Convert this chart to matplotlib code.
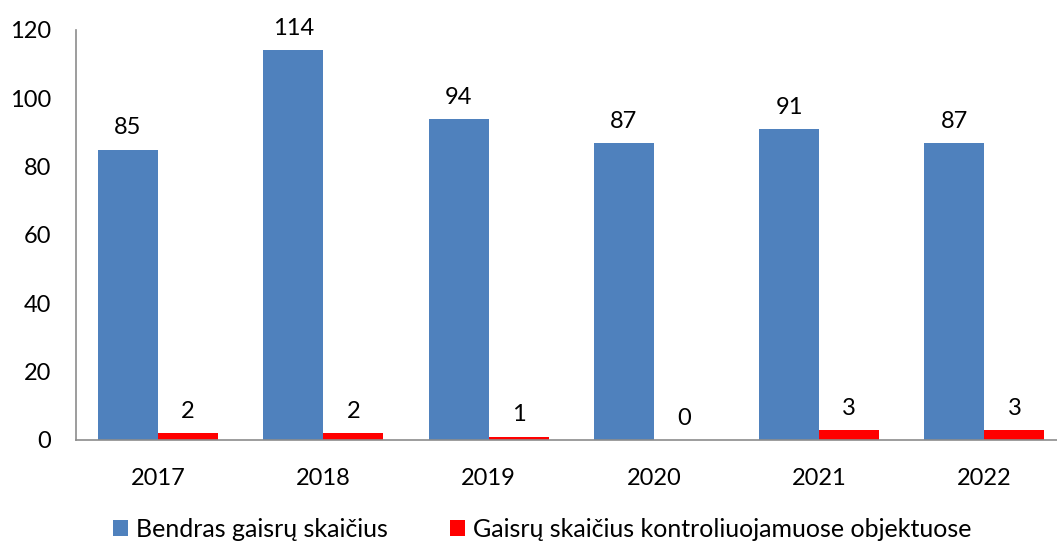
import matplotlib.pyplot as plt
import numpy as np

plt.rcParams['font.family'] = ['Lato', 'DejaVu Sans']

years = ['2017', '2018', '2019', '2020', '2021', '2022']
total = [85, 114, 94, 87, 91, 87]
controlled = [2, 2, 1, 0, 3, 3]

fig = plt.figure(figsize=(10.57, 5.45), dpi=100)
ax = fig.add_axes([76 / 1057, 105 / 545, 981 / 1057, 410 / 545])

x = np.arange(len(years))
w = 0.363
b1 = ax.bar(x - w / 2, total, w, color='#4F81BD', label='Bendras gaisrų skaičius')
b2 = ax.bar(x + w / 2, controlled, w, color='#FF0000',
            label='Gaisrų skaičius kontroliuojamuose objektuose')
ax.bar_label(b1, padding=8, fontsize=17)
ax.bar_label(b2, padding=8, fontsize=17)

ax.set_xlim(-0.496, 5.439)
ax.set_ylim(0, 120)
ax.set_yticks(range(0, 121, 20))
ax.set_xticks(x)
ax.set_xticklabels(years)
ax.tick_params(length=0, labelsize=17)
ax.tick_params(axis='x', pad=20)
ax.tick_params(axis='y', pad=18)
for s in ['top', 'right']:
    ax.spines[s].set_visible(False)
for s in ['left', 'bottom']:
    ax.spines[s].set_color('#8C8C8C')
    ax.spines[s].set_linewidth(1.2)

fig.legend(loc='center', bbox_to_anchor=(0.513, 0.028), ncol=2, frameon=False,
           fontsize=18, handlelength=0.6, handleheight=0.6, handletextpad=0.3,
           columnspacing=2.5)

fig.savefig('out.png', dpi=100)
